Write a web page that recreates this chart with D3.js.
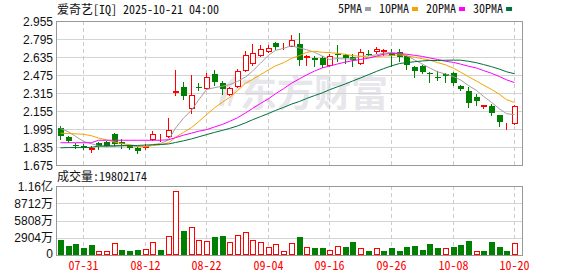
<!DOCTYPE html>
<html>
<head>
<meta charset="utf-8">
<script src="https://cdn.jsdelivr.net/npm/d3@7"></script>
<style>
body { margin: 0; background: #fff; }
svg { display: block; }
.mono { font-family: "Noto Sans Mono CJK SC", "Liberation Mono", monospace; font-size: 12px; }
.num { font-family: "Liberation Sans", Arial, "Noto Sans CJK SC", sans-serif; font-size: 12px; fill: #111; }
</style>
</head>
<body>
<div id="chart"></div>
<script>
(function () {

"use strict";

var title = "爱奇艺[IQ] 2025-10-21 04:00"
var volTitle = "成交量:19802174"
var maNames = [ "5PMA", "10PMA", "20PMA", "30PMA" ]

var dates = [ "07-28", "07-29", "07-30", "07-31", "08-01", "08-04", "08-05", "08-06", "08-07", "08-08",
  "08-11", "08-12", "08-13", "08-14", "08-15", "08-18", "08-19", "08-20", "08-21", "08-22",
  "08-25", "08-26", "08-27", "08-28", "08-29", "09-02", "09-03", "09-04", "09-05", "09-08",
  "09-09", "09-10", "09-11", "09-12", "09-15", "09-16", "09-17", "09-18", "09-19", "09-22",
  "09-23", "09-24", "09-25", "09-26", "09-29", "09-30", "10-01", "10-02", "10-03", "10-06",
  "10-07", "10-08", "10-09", "10-10", "10-13", "10-14", "10-15", "10-16", "10-17", "10-20" ]

var dateTicks = [ "07-31", "08-12", "08-22", "09-04", "09-16", "09-26", "10-08", "10-20" ]
var priceTicks = [ 1.675, 1.835, 1.995, 2.155, 2.315, 2.475, 2.635, 2.795, 2.955 ]
var volTicks = [ 0, 2904, 5808, 8712, 11616 ]
var volTickLabels = [ "0", "2904万", "5808万", "8712万", "1.16亿" ]

var open = [ 2.00, 1.92, 1.85, 1.845, 1.82, 1.87, 1.88, 1.95, 1.88, 1.845,
  1.83, 1.835, 1.905, 1.905, 1.93, 2.32, 2.365, 2.18, 2.37, 2.36,
  2.48, 2.405, 2.305, 2.38, 2.52, 2.58, 2.655, 2.69, 2.76, 2.73,
  2.735, 2.755, 2.635, 2.63, 2.63, 2.565, 2.665, 2.655, 2.635, 2.585,
  2.665, 2.685, 2.69, 2.67, 2.68, 2.645, 2.55, 2.555, 2.495, 2.46,
  2.485, 2.495, 2.375, 2.33, 2.28, 2.20, 2.20, 2.12, 2.01, 2.05 ]

var high = [ 2.02, 1.93, 1.87, 1.86, 1.84, 1.88, 1.89, 1.96, 1.905, 1.853,
  1.84, 1.86, 1.975, 1.95, 2.09, 2.52, 2.41, 2.475, 2.40, 2.495,
  2.52, 2.425, 2.37, 2.525, 2.69, 2.755, 2.74, 2.74, 2.77, 2.76,
  2.83, 2.85, 2.655, 2.64, 2.64, 2.66, 2.74, 2.665, 2.66, 2.705,
  2.70, 2.725, 2.71, 2.71, 2.705, 2.655, 2.555, 2.565, 2.50, 2.51,
  2.49, 2.505, 2.385, 2.365, 2.305, 2.21, 2.215, 2.12, 2.045, 2.21 ]

var low = [ 1.91, 1.88, 1.83, 1.82, 1.79, 1.82, 1.84, 1.845, 1.83, 1.82,
  1.785, 1.815, 1.90, 1.89, 1.925, 2.30, 2.26, 2.135, 2.34, 2.35,
  2.385, 2.305, 2.30, 2.37, 2.515, 2.565, 2.64, 2.68, 2.71, 2.71,
  2.73, 2.565, 2.565, 2.555, 2.55, 2.555, 2.595, 2.585, 2.555, 2.57,
  2.655, 2.67, 2.65, 2.555, 2.60, 2.525, 2.46, 2.49, 2.415, 2.435,
  2.41, 2.385, 2.34, 2.195, 2.21, 2.18, 2.12, 2.02, 1.995, 2.04 ]

var close = [ 1.93, 1.89, 1.845, 1.835, 1.822, 1.84, 1.845, 1.862, 1.858, 1.83,
  1.80, 1.84, 1.95, 1.91, 1.985, 2.33, 2.285, 2.295, 2.365, 2.455,
  2.41, 2.355, 2.36, 2.51, 2.65, 2.67, 2.71, 2.715, 2.725, 2.735,
  2.79, 2.61, 2.64, 2.61, 2.56, 2.645, 2.65, 2.625, 2.605, 2.68,
  2.66, 2.705, 2.695, 2.64, 2.635, 2.565, 2.515, 2.50, 2.48, 2.455,
  2.47, 2.40, 2.35, 2.23, 2.24, 2.205, 2.135, 2.06, 2.015, 2.20 ]

// volume in 万 shares
var volume = [ 2525, 1515, 1852, 1178, 1627, 617, 617, 1964, 842, 673,
  842, 954, 2132, 842, 3143, 10718, 4040, 4658, 2469, 2357,
  3030, 3199, 2132, 3311, 3816, 2469, 2189, 1347, 1852, 617,
  1964, 3030, 1290, 1178, 1178, 786, 1459, 1347, 2189, 1122,
  673, 1122, 673, 1178, 673, 1347, 1515, 842, 1852, 1178,
  1122, 1347, 1684, 2357, 617, 673, 2189, 1347, 673, 1980 ]

var ma5 = [ 2.00, 1.97, 1.93, 1.885, 1.864, 1.846, 1.837, 1.841, 1.845, 1.847,
  1.839, 1.838, 1.856, 1.866, 1.897, 2.003, 2.092, 2.161, 2.252, 2.346,
  2.362, 2.376, 2.389, 2.418, 2.457, 2.509, 2.58, 2.651, 2.694, 2.711,
  2.735, 2.715, 2.70, 2.677, 2.642, 2.613, 2.621, 2.618, 2.617, 2.641,
  2.644, 2.655, 2.669, 2.676, 2.667, 2.648, 2.61, 2.571, 2.539, 2.503,
  2.484, 2.461, 2.431, 2.381, 2.338, 2.285, 2.232, 2.174, 2.131, 2.123 ]

var ma10 = [ 1.957, 1.955, 1.952, 1.948, 1.935, 1.915, 1.898, 1.88, 1.865, 1.856,
  1.843, 1.838, 1.848, 1.856, 1.872, 1.921, 1.965, 2.008, 2.059, 2.122,
  2.183, 2.234, 2.275, 2.335, 2.402, 2.436, 2.478, 2.52, 2.556, 2.584,
  2.622, 2.648, 2.676, 2.686, 2.677, 2.674, 2.668, 2.659, 2.647, 2.642,
  2.629, 2.638, 2.644, 2.647, 2.654, 2.646, 2.633, 2.62, 2.608, 2.585,
  2.566, 2.536, 2.501, 2.46, 2.421, 2.385, 2.347, 2.303, 2.256, 2.231 ]

var ma20 = [ 1.873, 1.873, 1.873, 1.873, 1.873, 1.895, 1.895, 1.895, 1.895, 1.895,
  1.895, 1.895, 1.895, 1.895, 1.90, 1.918, 1.94, 1.958, 1.975, 1.989,
  2.013, 2.036, 2.062, 2.095, 2.137, 2.178, 2.222, 2.264, 2.308, 2.353,
  2.402, 2.441, 2.475, 2.51, 2.539, 2.555, 2.573, 2.59, 2.602, 2.613,
  2.625, 2.643, 2.66, 2.666, 2.665, 2.66, 2.65, 2.64, 2.627, 2.613,
  2.597, 2.587, 2.572, 2.553, 2.537, 2.515, 2.49, 2.461, 2.432, 2.408 ]

var ma30 = [ 1.828, 1.83, 1.83, 1.83, 1.832, 1.843, 1.845, 1.846, 1.847, 1.848,
  1.849, 1.852, 1.855, 1.857, 1.862, 1.875, 1.89, 1.907, 1.925, 1.945,
  1.965, 1.983, 2.00, 2.022, 2.05, 2.077, 2.105, 2.133, 2.16, 2.187,
  2.216, 2.24, 2.266, 2.292, 2.317, 2.344, 2.37, 2.396, 2.421, 2.449,
  2.478, 2.507, 2.531, 2.556, 2.577, 2.585, 2.593, 2.60, 2.604, 2.604,
  2.606, 2.607, 2.607, 2.597, 2.584, 2.568, 2.549, 2.527, 2.504, 2.486 ]

var maColors = [ "#a0a0a0", "#f4a400", "#ff00ff", "#00703c" ]
var up = "#ff0000", down = "#008000"

var width = 578, height = 276
var left = 56, right = 522, bandRight = 518
var priceTop = 21, priceBottom = 165
var volTop = 186, volBottom = 255

var svg = d3.select("#chart").append("svg").attr("width", width).attr("height", height)

var x = d3.scaleBand().domain(dates).range([left, bandRight]).padding(0)
var cx = function (i) { return Math.round(x(dates[i]) + x.bandwidth() / 2) }
var y = d3.scaleLinear().domain([1.675, 2.955]).range([priceBottom, priceTop])
var yv = d3.scaleLinear().domain([0, 11616]).range([volBottom, volTop])

// watermark (logo swoosh + name)
var wm = svg.append("g").style("fill", "none").style("stroke", "#e6e6eb")
wm.append("path").attr("d", "M221,106 Q224,88 236,78").style("stroke-width", 5)
wm.append("path").attr("d", "M229,106 Q232,92 240,86").style("stroke-width", 3)
svg.append("text")
  .attr("x", 240).attr("y", 107)
  .style("font-family", "\"Noto Sans CJK SC\", sans-serif")
  .style("font-size", "37px").style("font-weight", "bold")
  .style("fill", "#e6e6eb")
  .text("东方财富")

// grids
function panel(top, bottom, ticks, scale) {
  var g = svg.append("g")
  g.selectAll("line.h").data(ticks).enter().append("line")
    .attr("x1", left).attr("x2", right)
    .attr("y1", function (d) { return Math.round(scale(d)) + 0.5 })
    .attr("y2", function (d) { return Math.round(scale(d)) + 0.5 })
    .style("stroke", "#d4d4d4")
  g.selectAll("line.v").data(dateTicks).enter().append("line")
    .attr("x1", function (d) { return cx(dates.indexOf(d)) + 0.5 })
    .attr("x2", function (d) { return cx(dates.indexOf(d)) + 0.5 })
    .attr("y1", top).attr("y2", bottom)
    .style("stroke", "#cccccc").style("stroke-dasharray", "4,3")
  g.append("rect")
    .attr("x", left + 0.5).attr("y", top + 0.5)
    .attr("width", right - left).attr("height", bottom - top)
    .style("fill", "none").style("stroke", "#999")
}
panel(priceTop, priceBottom, priceTicks, y)
panel(volTop, volBottom, volTicks, yv)

// axis labels
svg.selectAll("text.py").data(priceTicks).enter().append("text")
  .attr("class", "num")
  .attr("x", 53).attr("y", function (d) { return y(d) + 4.5 })
  .attr("text-anchor", "end")
  .text(function (d) { return d.toFixed(3) })

svg.selectAll("text.vy").data(volTicks).enter().append("text")
  .attr("class", "num")
  .attr("x", 53).attr("y", function (d) { return Math.min(yv(d) + 4.5, 258) })
  .attr("text-anchor", "end")
  .text(function (d, i) { return volTickLabels[i] })

svg.selectAll("text.dx").data(dateTicks).enter().append("text")
  .attr("class", "mono")
  .attr("x", function (d) { return cx(dates.indexOf(d)) + 0.5 })
  .attr("y", 270)
  .attr("text-anchor", "middle")
  .style("fill", "#ff0000")
  .text(function (d) { return d })

// titles
svg.append("text").attr("class", "mono").attr("x", 57).attr("y", 14).style("fill", "#111").text(title)
svg.append("text").attr("class", "mono").attr("x", 57).attr("y", 181).style("fill", "#111").text(volTitle)

// legend
var lx = 338
maNames.forEach(function (name, k) {
  var t = svg.append("text").attr("class", "mono").attr("x", lx).attr("y", 13).style("fill", "#111").text(name)
  lx += t.node().getComputedTextLength() + 3
  svg.append("rect").attr("x", lx).attr("y", 7).attr("width", 6).attr("height", 4).style("fill", maColors[k])
  lx += 6 + 8
})

// candles
var candles = svg.append("g").selectAll("g").data(dates).enter().append("g")
candles.append("line")
  .attr("x1", function (d, i) { return cx(i) + 0.5 })
  .attr("x2", function (d, i) { return cx(i) + 0.5 })
  .attr("y1", function (d, i) { return Math.round(y(high[i])) })
  .attr("y2", function (d, i) { return Math.round(y(low[i])) + 1 })
  .style("stroke", function (d, i) { return close[i] >= open[i] ? up : down })
candles.append("rect")
  .each(function (d, i) {
    var rise = close[i] >= open[i]
      , top = Math.round(y(Math.max(open[i], close[i])))
      , bot = Math.round(y(Math.min(open[i], close[i])))
      , el = d3.select(this)
    if (rise) {
      el.attr("x", cx(i) - 2 + 0.5).attr("y", top + 0.5)
        .attr("width", 5).attr("height", Math.max(bot - top, 0))
        .style("fill", "#fff").style("stroke", up)
    } else {
      el.attr("x", cx(i) - 2).attr("y", top)
        .attr("width", 6).attr("height", Math.max(bot - top, 1))
        .style("fill", down)
    }
  })

// moving averages
var mas = [ ma5, ma10, ma20, ma30 ]
mas.forEach(function (ma, k) {
  var line = d3.line()
    .x(function (d, i) { return cx(i) + 0.5 })
    .y(function (d) { return y(d) })
  svg.append("path").datum(ma)
    .attr("d", line)
    .style("fill", "none").style("stroke", maColors[k]).style("stroke-width", 1)
})

// volume bars, colour by close vs previous close
svg.append("g").selectAll("rect").data(volume).enter().append("rect")
  .each(function (v, i) {
    var rise = i === 0 ? close[0] >= open[0] : close[i] >= close[i - 1]
      , top = Math.round(yv(v))
      , el = d3.select(this)
    if (rise) {
      el.attr("x", cx(i) - 2 + 0.5).attr("y", top + 0.5)
        .attr("width", 5).attr("height", volBottom - top - 1)
        .style("fill", "#fff").style("stroke", up)
    } else {
      el.attr("x", cx(i) - 2).attr("y", top)
        .attr("width", 6).attr("height", volBottom - top)
        .style("fill", down)
    }
  })

}())
</script>
</body>
</html>
